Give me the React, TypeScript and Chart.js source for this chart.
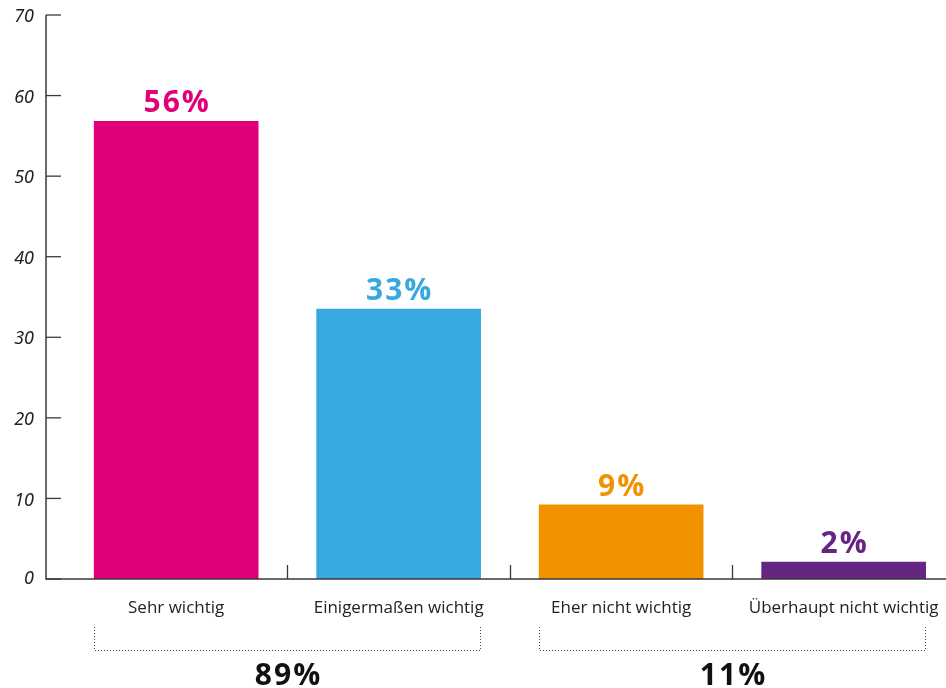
import React, { useEffect, useRef } from "react";
import { Chart, registerables } from "chart.js";

Chart.register(...registerables);

const categories = ["Sehr wichtig", "Einigermaßen wichtig", "Eher nicht wichtig", "Überhaupt nicht wichtig"];
const values = [56.8, 33.5, 9.2, 2.1];
const valueLabels = ["56%", "33%", "9%", "2%"];
const barColors = ["#E2007A", "#38A9E0", "#F39200", "#662483"];
const yTicks = [0, 10, 20, 30, 40, 50, 60, 70];
const groupLabels = ["89%", "11%"];
const groupRanges = [
  [0, 1],
  [2, 3],
];

const FONT = "'Open Sans', 'DejaVu Sans', sans-serif";
const ITALIC_FONT = "'Noto Sans', 'DejaVu Sans', sans-serif";

const overlayPlugin = {
  id: "overlay",
  afterDatasetsDraw(chart: any) {
    const ctx = chart.ctx;
    const xs = chart.scales.x;
    const ys = chart.scales.y;
    const area = chart.chartArea;
    const meta = chart.getDatasetMeta(0);
    const y0 = ys.getPixelForValue(0);
    ctx.save();

    // axes
    ctx.strokeStyle = "#3a3a3a";
    ctx.lineWidth = 1.5;
    ctx.beginPath();
    ctx.moveTo(area.left, ys.getPixelForValue(70));
    ctx.lineTo(area.left, y0);
    ctx.lineTo(area.right, y0);
    ctx.stroke();

    // y ticks
    ctx.lineWidth = 1.3;
    ctx.fillStyle = "#222";
    ctx.font = `italic 18px ${ITALIC_FONT}`;
    ctx.textAlign = "right";
    ctx.textBaseline = "middle";
    yTicks.forEach((t) => {
      const py = ys.getPixelForValue(t);
      ctx.beginPath();
      ctx.moveTo(area.left, py);
      ctx.lineTo(area.left + 15, py);
      ctx.stroke();
      ctx.fillText(String(t), area.left - 12, py + (t === 0 ? 0 : 2));
    });

    // x boundary ticks
    for (let i = 0; i < categories.length - 1; i++) {
      const px = Math.round(xs.getPixelForValue(i + 0.5)) + 0.5;
      ctx.beginPath();
      ctx.moveTo(px, y0 - 14);
      ctx.lineTo(px, y0);
      ctx.stroke();
    }

    // category labels
    ctx.font = `17px ${FONT}`;
    ctx.textAlign = "center";
    ctx.textBaseline = "alphabetic";
    ctx.fillStyle = "#222";
    categories.forEach((c, i) => {
      ctx.fillText(c, xs.getPixelForValue(i), 613);
    });

    // value labels
    ctx.font = `bold 30px ${FONT}`;
    (ctx as any).letterSpacing = "2px";
    meta.data.forEach((bar: any, i: number) => {
      ctx.fillStyle = barColors[i];
      ctx.fillText(valueLabels[i], bar.x + 1, bar.y - 9);
    });

    // brackets
    ctx.strokeStyle = "#444";
    ctx.lineWidth = 1;
    ctx.setLineDash([1, 2]);
    groupRanges.forEach((r, gi) => {
      const b1 = meta.data[r[0]];
      const b2 = meta.data[r[1]];
      const l = Math.round(b1.x - b1.width / 2) + 0.5;
      const rr = Math.round(b2.x + b2.width / 2) - 0.5;
      ctx.beginPath();
      ctx.moveTo(l, 627);
      ctx.lineTo(l, 650.5);
      ctx.lineTo(rr, 650.5);
      ctx.lineTo(rr, 627);
      ctx.stroke();
      ctx.fillStyle = "#111";
      ctx.font = `bold 30px ${FONT}`;
      ctx.fillText(groupLabels[gi], (l + rr) / 2 + 1, 685);
    });
    (ctx as any).letterSpacing = "0px";
    ctx.setLineDash([]);
    ctx.restore();
  },
};

export default function App() {
  const ref = useRef<HTMLCanvasElement | null>(null);
  useEffect(() => {
    if (!ref.current) return;
    const chart = new Chart(ref.current, {
      type: "bar",
      data: {
        datasets: [
          {
            data: values.map((v, i) => ({ x: i, y: v })),
            backgroundColor: barColors,
            borderWidth: 0,
            barThickness: 164,
          },
        ],
      },
      options: {
        animation: false,
        responsive: false,
        devicePixelRatio: 1,
        layout: { padding: { left: 46, top: 15, right: 0, bottom: 109 } },
        plugins: { legend: { display: false }, tooltip: { enabled: false } },
        scales: {
          x: { type: "linear", min: -0.585, max: 3.46, offset: false, display: false },
          y: { min: 0, max: 70, display: false },
        },
      },
      plugins: [overlayPlugin],
    } as any);
    return () => chart.destroy();
  }, []);
  return (
    <canvas
      ref={ref}
      width={946}
      height={688}
      style={{ position: "absolute", left: 0, top: 0, display: "block" }}
    />
  );
}
